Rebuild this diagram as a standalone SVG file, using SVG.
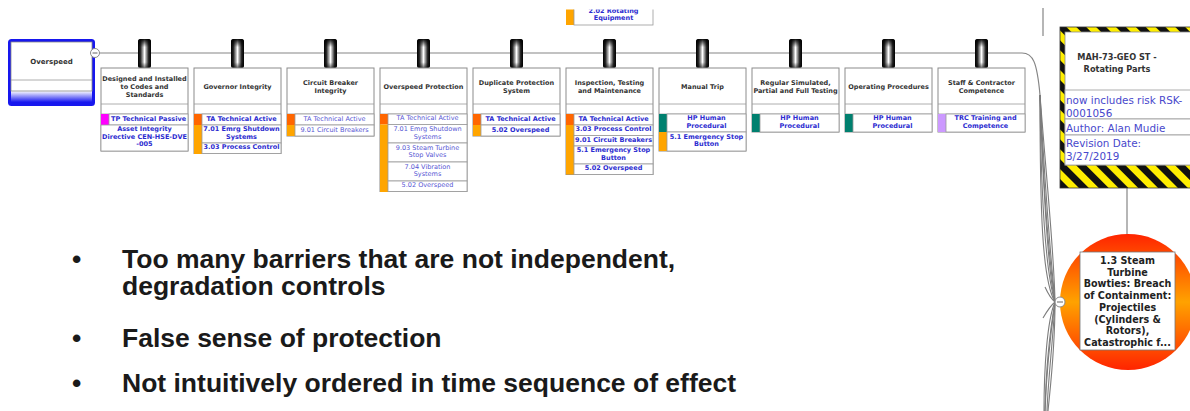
<svg xmlns="http://www.w3.org/2000/svg" width="1190" height="411" viewBox="0 0 1190 411">
  <style>
    .bx { fill: #fff; stroke: #8c8c8c; stroke-width: 1; }
    .row { fill: #fff; stroke: #9a9a9a; stroke-width: 0.8; }
    .sep { stroke: #9a9a9a; stroke-width: 0.8; }
    .ttl { font-family: 'DejaVu Sans', Verdana, sans-serif; font-size: 6.5px; font-weight: bold; fill: #333; text-anchor: middle; }
    .itb { font-family: 'DejaVu Sans', Verdana, sans-serif; font-size: 6.5px; font-weight: bold; fill: #2b2bd0; text-anchor: middle; }
    .itn { font-family: 'DejaVu Sans', Verdana, sans-serif; font-size: 6.5px; fill: #5656d4; text-anchor: middle; }
    .tp { fill: #ff00ff; }
    .ta { fill: #ff6600; }
    .cd { fill: #ffa500; }
    .hp { fill: #00806f; }
    .trc { fill: #cc99ff; }
    .clip-body { fill: url(#clipGrad); }
    .clip-shade { fill: url(#clipShade); }
    .wire { fill: none; stroke: #858585; stroke-width: 1.2; }
    .fan { fill: none; stroke: #7c7c7c; stroke-width: 1.1; }
    .minus-c { fill: #fff; stroke: #8a8a8a; stroke-width: 1; }
    .minus-l { stroke: #666; stroke-width: 1; }
    .info { font-family: 'DejaVu Sans', Verdana, sans-serif; font-size: 10.4px; fill: #4848cc; }
    .haz-t { font-family: 'DejaVu Sans', Verdana, sans-serif; font-size: 8.2px; font-weight: bold; fill: #333; text-anchor: middle; }
    .te-t { font-family: 'DejaVu Sans', Verdana, sans-serif; font-size: 9.6px; font-weight: bold; fill: #222; text-anchor: middle; }
    .bul { font-family: 'Liberation Sans', Arial, sans-serif; font-size: 26.5px; font-weight: bold; fill: #1a1a1a; }
  </style>
  <defs>
    <linearGradient id="clipGrad" x1="0" y1="0" x2="1" y2="0">
      <stop offset="0" stop-color="#000"/>
      <stop offset="0.18" stop-color="#222"/>
      <stop offset="0.5" stop-color="#fff"/>
      <stop offset="0.82" stop-color="#222"/>
      <stop offset="1" stop-color="#000"/>
    </linearGradient>
    <linearGradient id="clipShade" x1="0" y1="0" x2="0" y2="1">
      <stop offset="0" stop-color="#000" stop-opacity="0.95"/>
      <stop offset="0.28" stop-color="#000" stop-opacity="0"/>
      <stop offset="0.8" stop-color="#000" stop-opacity="0"/>
      <stop offset="1" stop-color="#000" stop-opacity="0.6"/>
    </linearGradient>
    <linearGradient id="blueFoot" x1="0" y1="0" x2="0" y2="1">
      <stop offset="0" stop-color="#ffffff"/>
      <stop offset="1" stop-color="#1a1af0"/>
    </linearGradient>
    <linearGradient id="topEvent" x1="0" y1="0" x2="0" y2="1">
      <stop offset="0" stop-color="#ff2400"/>
      <stop offset="0.5" stop-color="#ffa200"/>
      <stop offset="1" stop-color="#ff2400"/>
    </linearGradient>
    <pattern id="hazard" patternUnits="userSpaceOnUse" width="14" height="14" patternTransform="rotate(-45)">
      <rect x="0" y="0" width="7" height="14" fill="#111"/>
      <rect x="7" y="0" width="7" height="14" fill="#ffee00"/>
    </pattern>
    <clipPath id="topCut">
      <rect x="0" y="9.5" width="1190" height="30"/>
    </clipPath>
    <!-- barrier clip marker shape, reused on every barrier -->
    <g id="barrierClip">
      <rect x="0" y="0" width="13" height="29" rx="2.5" class="clip-body"/>
      <rect x="0" y="0" width="13" height="29" rx="2.5" class="clip-shade"/>
    </g>
  </defs>

  <!-- connectors: threat line, fan-in bundle, hazard stem -->
  <g id="connectors">
    <path class="wire" d="M95,53 H1022 C1033,53 1037,62 1040,95"/>
    <path class="fan" d="M1040,95 C1043,180 1048,250 1055,302"/>
    <path class="fan" d="M1040,95 C1045,190 1051,260 1055,302"/>
    <path class="fan" d="M1040,95 C1041,200 1045,270 1055,302"/>
    <path class="fan" d="M1040,95 C1046,175 1054,250 1055,302"/>
    <path class="fan" d="M1040,95 C1040,210 1042,280 1055,302"/>
    <path class="fan" d="M1040,95 C1044,210 1050,280 1055,302"/>
    <path class="fan" d="M1045,287 Q1050,298 1055,302"/>
    <path class="fan" d="M1043,318 Q1050,306 1055,302"/>
    <path class="fan" d="M1055,302 C1050,330 1046,370 1045,411"/>
    <path class="fan" d="M1055,302 C1053,340 1048,380 1047,411"/>
    <path class="fan" d="M1055,302 C1047,320 1044,370 1044,411"/>
    <path class="fan" d="M1055,302 C1055,350 1050,390 1048,411"/>
    <path class="fan" d="M1055,302 C1049,345 1046,385 1045,411"/>
    <line class="wire" x1="1043" y1="8" x2="1043" y2="36"/>
    <line class="wire" x1="1127" y1="188" x2="1127" y2="235"/>
  </g>

  <!-- partly visible control from a neighbouring branch -->
  <g id="rotating-equipment" clip-path="url(#topCut)">
    <rect class="cd" x="566" y="-4" width="8" height="29"/>
    <rect class="row" x="574" y="-4" width="79" height="29"/>
    <text class="itb" x="613.5" y="12.5">2.02 Rotating</text>
    <text class="itb" x="613.5" y="20.1">Equipment</text>
  </g>

  <!-- threat node -->
  <g id="threat-overspeed">
    <rect x="8" y="39" width="87" height="67" rx="3.5" fill="#1717ee"/>
    <rect x="11" y="91" width="81" height="11" fill="url(#blueFoot)"/>
    <rect x="11" y="42" width="81" height="49" fill="#fff" stroke="#8a8a8a" stroke-width="0.8"/>
    <line class="sep" x1="11" y1="80" x2="92" y2="80"/>
    <text class="ttl" x="51.5" y="63.5" style="font-size:7px">Overspeed</text>
    <circle class="minus-c" cx="95" cy="53" r="4.5"/>
    <line class="minus-l" x1="92.5" y1="53" x2="97.5" y2="53"/>
  </g>

  <!-- barrier 1 -->
  <g id="barrier-codes">
    <use href="#barrierClip" x="138" y="39"/>
    <rect class="bx" x="101" y="68" width="87" height="83"/>
    <line class="sep" x1="101" y1="104" x2="188" y2="104"/>
    <line class="sep" x1="101" y1="114" x2="188" y2="114"/>
    <text class="ttl" x="144.5" y="81.3">Designed and Installed</text>
    <text class="ttl" x="144.5" y="88.9">to Codes and</text>
    <text class="ttl" x="144.5" y="96.5">Standards</text>
    <rect class="tp" x="101" y="114" width="8" height="11"/>
    <rect class="row" x="109" y="114" width="79" height="11"/>
    <text class="itb" x="148.5" y="120.5">TP Technical Passive</text>
    <rect class="row" x="101" y="125" width="87" height="26"/>
    <text class="itb" x="144.5" y="131">Asset Integrity</text>
    <text class="itb" x="144.5" y="138.6">Directive CEN-HSE-DVE</text>
    <text class="itb" x="144.5" y="146.2">-005</text>
  </g>

  <!-- barrier 2 -->
  <g id="barrier-governor">
    <use href="#barrierClip" x="231" y="39"/>
    <rect class="bx" x="194" y="68" width="87" height="85.5"/>
    <line class="sep" x1="194" y1="104" x2="281" y2="104"/>
    <line class="sep" x1="194" y1="114" x2="281" y2="114"/>
    <text class="ttl" x="237.5" y="89">Governor Integrity</text>
    <rect class="ta" x="194" y="114" width="8" height="11"/>
    <rect class="row" x="202" y="114" width="79" height="11"/>
    <text class="itb" x="241.5" y="120.5">TA Technical Active</text>
    <rect class="cd" x="194" y="125" width="8" height="29"/>
    <rect class="row" x="202" y="125" width="79" height="18"/>
    <text class="itb" x="241.5" y="131.2">7.01 Emrg Shutdown</text>
    <text class="itb" x="241.5" y="138.8">Systems</text>
    <rect class="row" x="202" y="143" width="79" height="10.5"/>
    <text class="itb" x="241.5" y="149.3">3.03 Process Control</text>
  </g>

  <!-- barrier 3 -->
  <g id="barrier-breaker">
    <use href="#barrierClip" x="324" y="39"/>
    <rect class="bx" x="287" y="68" width="87" height="68"/>
    <line class="sep" x1="287" y1="104" x2="374" y2="104"/>
    <line class="sep" x1="287" y1="114" x2="374" y2="114"/>
    <text class="ttl" x="330.5" y="85.1">Circuit Breaker</text>
    <text class="ttl" x="330.5" y="92.7">Integrity</text>
    <rect class="ta" x="287" y="114" width="8" height="11"/>
    <rect class="row" x="295" y="114" width="79" height="11"/>
    <text class="itn" x="334.5" y="120.5">TA Technical Active</text>
    <rect class="cd" x="287" y="125" width="8" height="11"/>
    <rect class="row" x="295" y="125" width="79" height="11"/>
    <text class="itn" x="334.5" y="131.5">9.01 Circuit Breakers</text>
  </g>

  <!-- barrier 4 -->
  <g id="barrier-overspeed-protection">
    <use href="#barrierClip" x="417" y="39"/>
    <rect class="bx" x="380" y="68" width="87" height="123.5"/>
    <line class="sep" x1="380" y1="104" x2="467" y2="104"/>
    <line class="sep" x1="380" y1="114" x2="467" y2="114"/>
    <text class="ttl" x="423.5" y="89">Overspeed Protection</text>
    <rect class="ta" x="380" y="114" width="8" height="10.5"/>
    <rect class="row" x="388" y="114" width="79" height="10.5"/>
    <text class="itn" x="427.5" y="120.3">TA Technical Active</text>
    <rect class="cd" x="380" y="124.5" width="8" height="67.5"/>
    <rect class="row" x="388" y="124.5" width="79" height="18.5"/>
    <text class="itn" x="427.5" y="130.9">7.01 Emrg Shutdown</text>
    <text class="itn" x="427.5" y="138.5">Systems</text>
    <rect class="row" x="388" y="143" width="79" height="19"/>
    <text class="itn" x="427.5" y="149.7">9.03 Steam Turbine</text>
    <text class="itn" x="427.5" y="157.3">Stop Valves</text>
    <rect class="row" x="388" y="162" width="79" height="19"/>
    <text class="itn" x="427.5" y="168.7">7.04 Vibration</text>
    <text class="itn" x="427.5" y="176.3">Systems</text>
    <rect class="row" x="388" y="181" width="79" height="10.5"/>
    <text class="itn" x="427.5" y="187.3">5.02 Overspeed</text>
  </g>

  <!-- barrier 5 -->
  <g id="barrier-duplicate">
    <use href="#barrierClip" x="510" y="39"/>
    <rect class="bx" x="473" y="68" width="87" height="68"/>
    <line class="sep" x1="473" y1="104" x2="560" y2="104"/>
    <line class="sep" x1="473" y1="114" x2="560" y2="114"/>
    <text class="ttl" x="516.5" y="85.1">Duplicate Protection</text>
    <text class="ttl" x="516.5" y="92.7">System</text>
    <rect class="ta" x="473" y="114" width="8" height="11"/>
    <rect class="row" x="481" y="114" width="79" height="11"/>
    <text class="itb" x="520.5" y="120.5">TA Technical Active</text>
    <rect class="cd" x="473" y="125" width="8" height="11"/>
    <rect class="row" x="481" y="125" width="79" height="11"/>
    <text class="itb" x="520.5" y="131.5">5.02 Overspeed</text>
  </g>

  <!-- barrier 6 -->
  <g id="barrier-inspection">
    <use href="#barrierClip" x="603" y="39"/>
    <rect class="bx" x="566" y="68" width="87" height="106.5"/>
    <line class="sep" x1="566" y1="104" x2="653" y2="104"/>
    <line class="sep" x1="566" y1="114" x2="653" y2="114"/>
    <text class="ttl" x="609.5" y="85.1">Inspection, Testing</text>
    <text class="ttl" x="609.5" y="92.7">and Maintenance</text>
    <rect class="ta" x="566" y="114" width="8" height="11"/>
    <rect class="row" x="574" y="114" width="79" height="11"/>
    <text class="itb" x="613.5" y="120.5">TA Technical Active</text>
    <rect class="cd" x="566" y="125" width="8" height="49.5"/>
    <rect class="row" x="574" y="125" width="79" height="10.5"/>
    <text class="itb" x="613.5" y="131.3">3.03 Process Control</text>
    <rect class="row" x="574" y="135.5" width="79" height="10.5"/>
    <text class="itb" x="613.5" y="141.8">9.01 Circuit Breakers</text>
    <rect class="row" x="574" y="146" width="79" height="18"/>
    <text class="itb" x="613.5" y="152.2">5.1 Emergency Stop</text>
    <text class="itb" x="613.5" y="159.8">Button</text>
    <rect class="row" x="574" y="164" width="79" height="10.5"/>
    <text class="itb" x="613.5" y="170.3">5.02 Overspeed</text>
  </g>

  <!-- barrier 7 -->
  <g id="barrier-manual-trip">
    <use href="#barrierClip" x="696" y="39"/>
    <rect class="bx" x="659" y="68" width="87" height="83"/>
    <line class="sep" x1="659" y1="104" x2="746" y2="104"/>
    <line class="sep" x1="659" y1="114" x2="746" y2="114"/>
    <text class="ttl" x="702.5" y="89">Manual Trip</text>
    <rect class="hp" x="659" y="114" width="8" height="18"/>
    <rect class="row" x="667" y="114" width="79" height="18"/>
    <text class="itb" x="706.5" y="120.2">HP Human</text>
    <text class="itb" x="706.5" y="127.8">Procedural</text>
    <rect class="cd" x="659" y="132" width="8" height="19"/>
    <rect class="row" x="667" y="132" width="79" height="19"/>
    <text class="itb" x="706.5" y="138.7">5.1 Emergency Stop</text>
    <text class="itb" x="706.5" y="146.3">Button</text>
  </g>

  <!-- barrier 8 -->
  <g id="barrier-testing">
    <use href="#barrierClip" x="789" y="39"/>
    <rect class="bx" x="752" y="68" width="87" height="64"/>
    <line class="sep" x1="752" y1="104" x2="839" y2="104"/>
    <line class="sep" x1="752" y1="114" x2="839" y2="114"/>
    <text class="ttl" x="795.5" y="85.1">Regular Simulated,</text>
    <text class="ttl" x="795.5" y="92.7">Partial and Full Testing</text>
    <rect class="hp" x="752" y="114" width="8" height="18"/>
    <rect class="row" x="760" y="114" width="79" height="18"/>
    <text class="itb" x="799.5" y="120.2">HP Human</text>
    <text class="itb" x="799.5" y="127.8">Procedural</text>
  </g>

  <!-- barrier 9 -->
  <g id="barrier-procedures">
    <use href="#barrierClip" x="882" y="39"/>
    <rect class="bx" x="845" y="68" width="87" height="64"/>
    <line class="sep" x1="845" y1="104" x2="932" y2="104"/>
    <line class="sep" x1="845" y1="114" x2="932" y2="114"/>
    <text class="ttl" x="888.5" y="89">Operating Procedures</text>
    <rect class="hp" x="845" y="114" width="8" height="18"/>
    <rect class="row" x="853" y="114" width="79" height="18"/>
    <text class="itb" x="892.5" y="120.2">HP Human</text>
    <text class="itb" x="892.5" y="127.8">Procedural</text>
  </g>

  <!-- barrier 10 -->
  <g id="barrier-competence">
    <use href="#barrierClip" x="975" y="39"/>
    <rect class="bx" x="938" y="68" width="87" height="64"/>
    <line class="sep" x1="938" y1="104" x2="1025" y2="104"/>
    <line class="sep" x1="938" y1="114" x2="1025" y2="114"/>
    <text class="ttl" x="981.5" y="85.1">Staff &amp; Contractor</text>
    <text class="ttl" x="981.5" y="92.7">Competence</text>
    <rect class="trc" x="938" y="114" width="8" height="18"/>
    <rect class="row" x="946" y="114" width="79" height="18"/>
    <text class="itb" x="985.5" y="120.2">TRC Training and</text>
    <text class="itb" x="985.5" y="127.8">Competence</text>
  </g>

  <!-- hazard -->
  <g id="hazard-mah">
    <rect x="1060" y="27" width="150" height="161" fill="url(#hazard)" stroke="#333" stroke-width="0.8"/>
    <rect x="1065" y="32" width="140" height="133" fill="#fff" stroke="#8a8a8a" stroke-width="0.8"/>
    <text class="haz-t" x="1117" y="60">MAH-73-GEO ST -</text>
    <text class="haz-t" x="1117" y="71.5">Rotating Parts</text>
    <rect class="row" x="1065" y="90" width="140" height="29"/>
    <rect class="row" x="1065" y="119" width="140" height="16"/>
    <rect class="row" x="1065" y="135" width="140" height="30"/>
    <text class="info" x="1066" y="104">now includes risk RSK-</text>
    <text class="info" x="1066" y="117">0001056</text>
    <text class="info" x="1066" y="131.5">Author: Alan Mudie</text>
    <text class="info" x="1066" y="147">Revision Date:</text>
    <text class="info" x="1066" y="160">3/27/2019</text>
  </g>

  <!-- top event -->
  <g id="top-event">
    <circle cx="1128" cy="302" r="68" fill="url(#topEvent)"/>
    <rect x="1080" y="252" width="95" height="98" fill="#fff" stroke="#777" stroke-width="0.8"/>
    <text class="te-t" x="1127.5" y="264">1.3 Steam</text>
    <text class="te-t" x="1127.5" y="275.7">Turbine</text>
    <text class="te-t" x="1127.5" y="287.4">Bowties: Breach</text>
    <text class="te-t" x="1127.5" y="299.1">of Containment:</text>
    <text class="te-t" x="1127.5" y="310.8">Projectiles</text>
    <text class="te-t" x="1127.5" y="322.5">(Cylinders &amp;</text>
    <text class="te-t" x="1127.5" y="334.2">Rotors),</text>
    <text class="te-t" x="1127.5" y="345.9">Catastrophic f...</text>
    <circle class="minus-c" cx="1060" cy="302" r="5"/>
    <line class="minus-l" x1="1057" y1="302" x2="1063" y2="302"/>
  </g>

  <!-- notes -->
  <g id="notes">
    <text class="bul" x="72" y="268">•</text>
    <text class="bul" x="122" y="268">Too many barriers that are not independent,</text>
    <text class="bul" x="122" y="295">degradation controls</text>
    <text class="bul" x="72" y="347">•</text>
    <text class="bul" x="122" y="347">False sense of protection</text>
    <text class="bul" x="72" y="392">•</text>
    <text class="bul" x="122" y="392">Not intuitively ordered in time sequence of effect</text>
  </g>
</svg>
